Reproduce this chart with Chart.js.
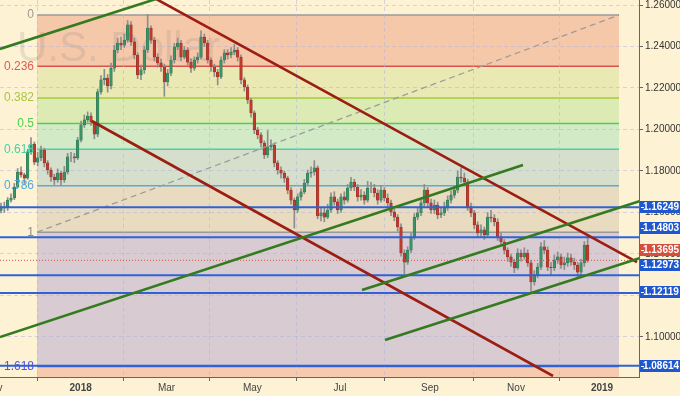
<!DOCTYPE html>
<html>
<head>
<meta charset="utf-8">
<script src="https://cdn.jsdelivr.net/npm/chart.js@4.4.0/dist/chart.umd.min.js"></script>
<style>
  html, body { margin: 0; padding: 0; background: #fdf2d4; }
  canvas { display: block; }
</style>
</head>
<body>
<canvas id="chart" width="680" height="396"></canvas>
<script>
// candles, one per bar index (open = previous close)
const firstOpen = 1.1610;
const closes = [
  1.1627, 1.1622, 1.1660, 1.1670, 1.1723, 1.1795, 1.1781, 1.1766, 1.1892, 1.1930,
  1.1843, 1.1863, 1.1901, 1.1839, 1.1805, 1.1771, 1.1757, 1.1790, 1.1757, 1.1795,
  1.1868, 1.1868, 1.1863, 1.1949, 1.2022, 1.2046, 1.2065, 1.2036, 1.1978, 1.2181,
  1.2239, 1.2248, 1.2210, 1.2296, 1.2383, 1.2417, 1.2407, 1.2431, 1.2504, 1.2422,
  1.2359, 1.2263, 1.2287, 1.2383, 1.2489, 1.2431, 1.2349, 1.2321, 1.2301, 1.2229,
  1.2272, 1.2335, 1.2398, 1.2417, 1.2349, 1.2383, 1.2325, 1.2296, 1.2335, 1.2349,
  1.2446, 1.2417, 1.2335, 1.2301, 1.2277, 1.2253, 1.2335, 1.2369, 1.2359, 1.2373,
  1.2383, 1.2349, 1.2239, 1.2205, 1.2142, 1.2080, 1.1998, 1.1974, 1.1935, 1.1877,
  1.1916, 1.1925, 1.1839, 1.1805, 1.1790, 1.1766, 1.1708, 1.1660, 1.1612, 1.1675,
  1.1699, 1.1742, 1.1790, 1.1795, 1.1815, 1.1583, 1.1598, 1.1578, 1.1612, 1.1675,
  1.1651, 1.1612, 1.1675, 1.1660, 1.1718, 1.1747, 1.1723, 1.1675, 1.1684, 1.1660,
  1.1718, 1.1718, 1.1694, 1.1660, 1.1708, 1.1670, 1.1646, 1.1602, 1.1578, 1.1530,
  1.1405, 1.1361, 1.1419, 1.1482, 1.1578, 1.1598, 1.1646, 1.1708, 1.1646, 1.1612,
  1.1636, 1.1588, 1.1598, 1.1627, 1.1660, 1.1684, 1.1708, 1.1771, 1.1766, 1.1747,
  1.1627, 1.1598, 1.1540, 1.1501, 1.1516, 1.1492, 1.1578, 1.1573, 1.1554, 1.1482,
  1.1458, 1.1419, 1.1386, 1.1361, 1.1333, 1.1405, 1.1386, 1.1405, 1.1357, 1.1265,
  1.1299, 1.1337, 1.1434, 1.1419, 1.1337, 1.1333, 1.1371, 1.1386, 1.1347, 1.1357,
  1.1381, 1.1361, 1.1347, 1.1313, 1.1357, 1.1443, 1.13695
];
const highs = [
  1.1645, 1.1650, 1.1672, 1.1690, 1.1740, 1.1812, 1.1820, 1.1790, 1.1905, 1.1961,
  1.1940, 1.1890, 1.1920, 1.1910, 1.1850, 1.1815, 1.1785, 1.1810, 1.1800, 1.1822,
  1.1885, 1.1890, 1.1885, 1.1962, 1.2040, 1.2070, 1.2085, 1.2080, 1.2040, 1.2195,
  1.2260, 1.2290, 1.2265, 1.2320, 1.2405, 1.2440, 1.2445, 1.2460, 1.2525, 1.2520,
  1.2440, 1.2370, 1.2310, 1.2400, 1.2555, 1.2500, 1.2445, 1.2365, 1.2340, 1.2315,
  1.2290, 1.2355, 1.2415, 1.2440, 1.2430, 1.2400, 1.2395, 1.2340, 1.2350, 1.2370,
  1.2475, 1.2460, 1.2430, 1.2345, 1.2315, 1.2290, 1.2350, 1.2385, 1.2385, 1.2395,
  1.2410, 1.2395, 1.2360, 1.2250, 1.2215, 1.2150, 1.2090, 1.2010, 1.1985, 1.1945,
  1.1995, 1.1950, 1.1935, 1.1850, 1.1820, 1.1800, 1.1775, 1.1720, 1.1670, 1.1690,
  1.1715, 1.1760, 1.1805, 1.1820, 1.1850, 1.1825, 1.1625, 1.1620, 1.1640, 1.1695,
  1.1700, 1.1665, 1.1690, 1.1700, 1.1735, 1.1770, 1.1760, 1.1735, 1.1710, 1.1700,
  1.1750, 1.1745, 1.1735, 1.1710, 1.1730, 1.1720, 1.1690, 1.1660, 1.1615, 1.1590,
  1.1545, 1.1420, 1.1435, 1.1500, 1.1595, 1.1625, 1.1665, 1.1735, 1.1720, 1.1665,
  1.1660, 1.1650, 1.1625, 1.1650, 1.1680, 1.1705, 1.1730, 1.1800, 1.1815, 1.1790,
  1.1760, 1.1645, 1.1610, 1.1555, 1.1540, 1.1530, 1.1600, 1.1610, 1.1590, 1.1570,
  1.1500, 1.1470, 1.1430, 1.1400, 1.1375, 1.1425, 1.1420, 1.1430, 1.1420, 1.1370,
  1.1320, 1.1355, 1.1455, 1.1465, 1.1435, 1.1360, 1.1395, 1.1410, 1.1400, 1.1385,
  1.1405, 1.1400, 1.1380, 1.1360, 1.1375, 1.1460, 1.1492
];
const lows = [
  1.1598, 1.1600, 1.1610, 1.1650, 1.1662, 1.1718, 1.1770, 1.1740, 1.1760, 1.1880,
  1.1830, 1.1825, 1.1850, 1.1820, 1.1785, 1.1750, 1.1735, 1.1745, 1.1732, 1.1745,
  1.1785, 1.1845, 1.1840, 1.1855, 1.1940, 1.2010, 1.2035, 1.2020, 1.1955, 1.1965,
  1.2170, 1.2215, 1.2180, 1.2195, 1.2280, 1.2370, 1.2385, 1.2395, 1.2420, 1.2405,
  1.2340, 1.2245, 1.2240, 1.2270, 1.2370, 1.2415, 1.2330, 1.2300, 1.2280, 1.2160,
  1.2210, 1.2260, 1.2320, 1.2385, 1.2330, 1.2340, 1.2310, 1.2275, 1.2285, 1.2320,
  1.2340, 1.2400, 1.2320, 1.2280, 1.2255, 1.2215, 1.2245, 1.2320, 1.2340, 1.2345,
  1.2360, 1.2330, 1.2220, 1.2185, 1.2125, 1.2060, 1.1980, 1.1955, 1.1915, 1.1860,
  1.1865, 1.1900, 1.1820, 1.1785, 1.1765, 1.1745, 1.1690, 1.1640, 1.1525, 1.1600,
  1.1660, 1.1690, 1.1730, 1.1770, 1.1780, 1.1570, 1.1560, 1.1555, 1.1570, 1.1600,
  1.1635, 1.1595, 1.1600, 1.1640, 1.1650, 1.1705, 1.1705, 1.1655, 1.1660, 1.1640,
  1.1650, 1.1695, 1.1675, 1.1640, 1.1650, 1.1655, 1.1625, 1.1585, 1.1560, 1.1510,
  1.1390, 1.1305, 1.1350, 1.1405, 1.1470, 1.1565, 1.1585, 1.1630, 1.1625, 1.1595,
  1.1595, 1.1570, 1.1575, 1.1585, 1.1610, 1.1645, 1.1670, 1.1695, 1.1745, 1.1730,
  1.1610, 1.1580, 1.1520, 1.1480, 1.1485, 1.1470, 1.1480, 1.1555, 1.1535, 1.1465,
  1.1440, 1.1400, 1.1365, 1.1340, 1.1310, 1.1325, 1.1365, 1.1375, 1.1340, 1.1217,
  1.1250, 1.1285, 1.1325, 1.1400, 1.1320, 1.1300, 1.1320, 1.1355, 1.1330, 1.1325,
  1.1340, 1.1345, 1.1325, 1.1290, 1.1300, 1.1340, 1.1360
];

// x axis: bar index positions of month starts
const monthTickBars = [-2.2, 23.9, 49.65, 75.4, 101.7, 128.7, 154.5, 180.3];
const monthTickLabels = ["Nov", "2018", "Mar", "May", "Jul", "Sep", "Nov", "2019"];
const priceTicks = [1.10, 1.12, 1.14, 1.16, 1.18, 1.20, 1.22, 1.24, 1.26];

// horizontal levels and last price
const levelPrices = [1.16249, 1.14803, 1.12973, 1.12119, 1.08614];
const lastPrice = 1.13695;

// fibonacci retracement anchored from (fibFrom) to (fibTo)
const fibFrom = [10.8, 1.1505];
const fibTo = [185.4, 1.2552];
const fibRatios = [0, 0.236, 0.382, 0.5, 0.618, 0.786, 1, 1.618, 2.618];
const fibLabels = ["0", "0.236", "0.382", "0.5", "0.618", "0.786", "1", "1.618"];

// trend lines [[bar, price], [bar, price]]
const greenLines = [
  [[-0.3, 1.2388], [47.7, 1.2635]],
  [[-0.3, 1.1000], [156.6, 1.1829]],
  [[108.3, 1.1227], [191.7, 1.1655]],
  [[115.2, 1.0986], [191.7, 1.1381]]
];
const redLines = [
  [[44.7, 1.2645], [190.8, 1.1361]],
  [[27.2, 1.2041], [165.6, 1.0812]]
];

const X_MIN = -0.3, X_MAX = 191.4;
const Y_MIN = 1.08072, Y_MAX = 1.26241;

const fibFills = ["#f6c8aa", "#ebe9b3", "#dcebb3", "#d3eac6", "#d6dfcc", "#e8dbbf", "#d8ccd2", "#f6caae"];
const fibLineColors = ["#9a9a9a", "#d9534f", "#a3cc3a", "#4fcf4f", "#4ccfaa", "#5aaad8", "#9a9a9a", "#3a64d8"];
const fibTextColors = ["#9a9a9a", "#e05a50", "#a5c83e", "#4ed24e", "#46d2a6", "#4fa8e0", "#8a8a8a", "#4a55e0"];

function fibPrice(r) {
  return fibTo[1] - r * (fibTo[1] - fibFrom[1]);
}

const opens = closes.map((c, i) => i === 0 ? firstOpen : closes[i - 1]);
const upColor = "#3a9266", downColor = "#bf3a2c";

const toPts = seg => seg.map(p => ({ x: p[0], y: p[1] }));
const lineDs = (seg, color, extra) => Object.assign({
  type: "line", data: toPts(seg), borderColor: color, borderWidth: 2.6,
  pointRadius: 0, tension: 0, fill: false, order: 1
}, extra || {});

const datasets = [];
datasets.push({
  type: "bar",
  data: closes.map((c, i) => ({ x: i, y: [lows[i], highs[i]] })),
  backgroundColor: "#8d8d8d", barThickness: 1, grouped: false, order: 6
});
datasets.push({
  type: "bar",
  data: closes.map((c, i) => ({ x: i, y: [opens[i], c] })),
  backgroundColor: closes.map((c, i) => c >= opens[i] ? upColor : downColor),
  borderColor: closes.map((c, i) => c >= opens[i] ? "#2a6e4c" : "#8e2a20"),
  borderWidth: 0.5, borderSkipped: false,
  barThickness: 2.6, grouped: false, order: 5
});
levelPrices.forEach(p => datasets.push(lineDs([[X_MIN, p], [X_MAX, p]], "#2f62d6", { borderWidth: 2, order: 3 })));
datasets.push(lineDs([[X_MIN, lastPrice], [X_MAX, lastPrice]], "#d9503f", { borderWidth: 1, borderDash: [1, 2], order: 3 }));
datasets.push(lineDs([fibFrom, fibTo], "#9c9c9c", { borderWidth: 1.3, borderDash: [6, 4], order: 4 }));
greenLines.forEach(seg => datasets.push(lineDs(seg, "#347a1f")));
redLines.forEach(seg => datasets.push(lineDs(seg, "#9c1d12")));

const backdrop = {
  id: "backdrop",
  beforeDraw(chart) {
    const { ctx, chartArea: a, scales: { x, y } } = chart;
    ctx.save();
    ctx.fillStyle = "#fdf2d4";
    ctx.fillRect(0, 0, chart.width, chart.height);
    ctx.beginPath();
    ctx.rect(a.left, a.top, a.right - a.left, a.bottom - a.top);
    ctx.clip();
    const x0 = x.getPixelForValue(fibFrom[0]), x1 = x.getPixelForValue(fibTo[0]);
    for (let i = 0; i < fibRatios.length - 1; i++) {
      const ya = y.getPixelForValue(fibPrice(fibRatios[i]));
      const yb = y.getPixelForValue(fibPrice(fibRatios[i + 1]));
      ctx.fillStyle = fibFills[i];
      ctx.fillRect(x0, ya, x1 - x0, yb - ya);
    }
    fibLabels.forEach((lab, i) => {
      const py = y.getPixelForValue(fibPrice(fibRatios[i]));
      ctx.strokeStyle = fibLineColors[i];
      ctx.lineWidth = 1.5;
      ctx.beginPath();
      ctx.moveTo(x0, py);
      ctx.lineTo(x1, py);
      ctx.stroke();
    });
    ctx.restore();
  },
  beforeDatasetsDraw(chart) {
    const { ctx, chartArea: a } = chart;
    ctx.save();
    ctx.fillStyle = "rgba(120,120,120,0.17)";
    ctx.font = "42px 'Liberation Sans', Arial, sans-serif";
    ctx.textBaseline = "alphabetic";
    ctx.fillText("U.S. Dollar", a.left + 17, a.top + 61);
    ctx.restore();
  },
  afterDatasetsDraw(chart) {
    const { ctx, scales: { x, y } } = chart;
    const x0 = x.getPixelForValue(fibFrom[0]);
    ctx.save();
    ctx.font = "12px 'Liberation Sans', Arial, sans-serif";
    ctx.textAlign = "right";
    ctx.textBaseline = "middle";
    fibLabels.forEach((lab, i) => {
      ctx.fillStyle = fibTextColors[i];
      ctx.fillText(lab, x0 - 3, y.getPixelForValue(fibPrice(fibRatios[i])));
    });
    ctx.restore();
  },
  afterDraw(chart) {
    const { ctx, chartArea: a, scales: { y } } = chart;
    const nudge = { 1.14803: -9, 1.13695: -10, 1.12973: -10, 1.12119: -1 };
    const boxes = levelPrices.map(p => ({ p, c: "#1f57cf" })).concat([{ p: lastPrice, c: "#d64f3c" }]);
    ctx.save();
    ctx.font = "bold 10px 'Liberation Sans', Arial, sans-serif";
    ctx.textAlign = "center";
    ctx.textBaseline = "middle";
    boxes.forEach(b => {
      const cy = Math.round(y.getPixelForValue(b.p) + (nudge[b.p] || 0));
      ctx.fillStyle = b.c;
      ctx.fillRect(a.right + 1, cy - 6, chart.width - a.right - 1, 12);
      ctx.fillStyle = "#ffffff";
      ctx.fillRect(a.right + 2, cy, 3, 1);
      ctx.fillText(b.p.toFixed(5), a.right + 22, cy + 0.5);
    });
    ctx.restore();
  }
};

new Chart(document.getElementById("chart"), {
  type: "bar",
  data: { datasets },
  options: {
    responsive: false,
    animation: false,
    devicePixelRatio: 1,
    layout: { padding: 0 },
    plugins: { legend: { display: false }, tooltip: { enabled: false } },
    scales: {
      x: {
        type: "linear", min: X_MIN, max: X_MAX, offset: false,
        afterBuildTicks: s => { s.ticks = monthTickBars.map(v => ({ value: v })); },
        afterFit: s => { s.height = 19; s.paddingLeft = 0; s.paddingRight = 0; },
        grid: { color: "rgba(180,180,220,0.55)", tickColor: "#666", tickLength: 4 },
        border: { color: "#666", width: 1, dash: [4, 3] },
        ticks: {
          autoSkip: false, maxRotation: 0, padding: 1, color: "#444",
          font: c => ({ family: "'Liberation Sans', Arial, sans-serif", size: 10,
            weight: /^\d{4}$/.test(monthTickLabels[c.index]) ? "bold" : "normal" }),
          callback: (v, i) => monthTickLabels[i]
        }
      },
      y: {
        type: "linear", position: "right", min: Y_MIN, max: Y_MAX,
        afterBuildTicks: s => { s.ticks = priceTicks.map(v => ({ value: v })); },
        afterFit: s => { s.width = 41; s.paddingTop = 0; s.paddingBottom = 0; },
        grid: { color: "rgba(180,180,220,0.55)", tickColor: "#666", tickLength: 4 },
        border: { color: "#666", width: 1, dash: [4, 3] },
        ticks: {
          padding: 2, color: "#333",
          font: { family: "'Liberation Sans', Arial, sans-serif", size: 10 },
          callback: v => v.toFixed(5)
        }
      }
    }
  },
  plugins: [backdrop]
});
</script>
</body>
</html>
